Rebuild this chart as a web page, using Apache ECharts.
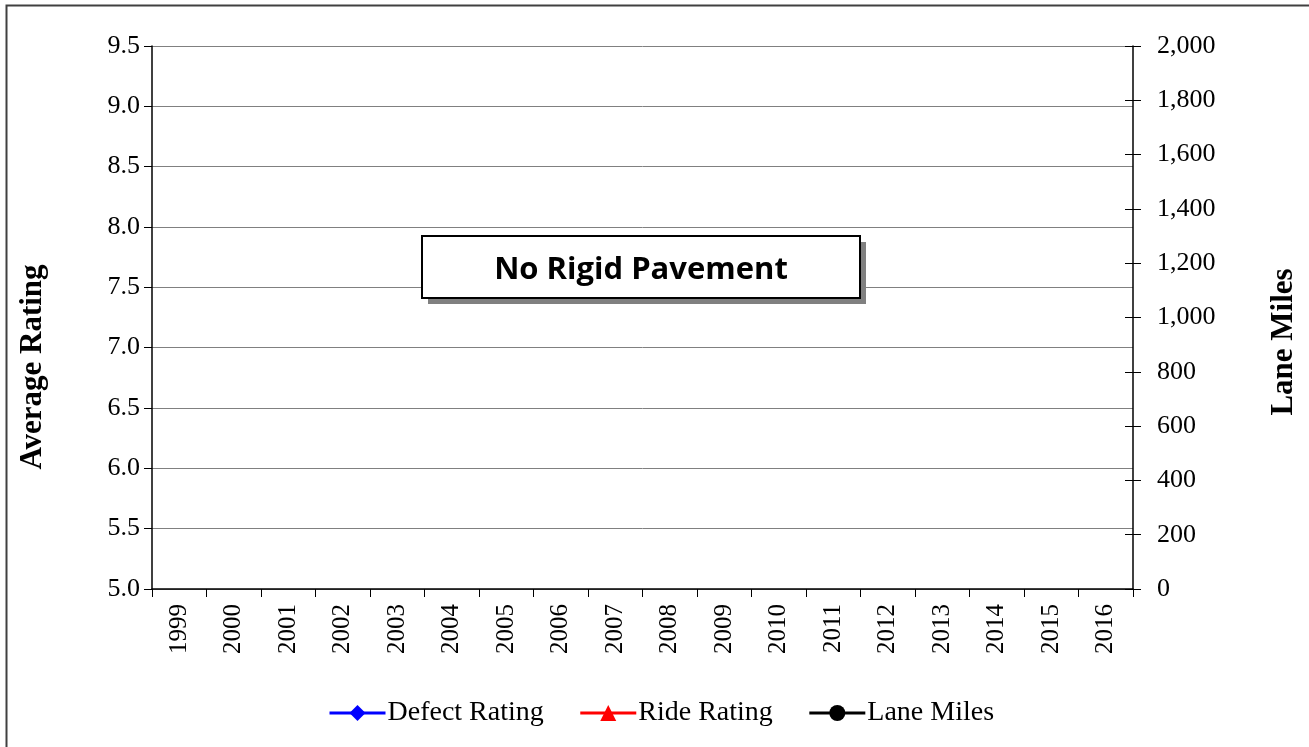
<!DOCTYPE html>
<html>
<head>
<meta charset="utf-8">
<style>
  html, body { margin: 0; padding: 0; background: #fff; }
  #chart { width: 1309px; height: 747px; }
</style>
<script src="https://cdn.jsdelivr.net/npm/echarts@6/dist/echarts.min.js"></script>
</head>
<body>
<div id="chart"></div>
<script>
// Survey years
const years = ['1999','2000','2001','2002','2003','2004','2005','2006','2007','2008',
               '2009','2010','2011','2012','2013','2014','2015','2016'];
// No rigid pavement in the network: every year has no reading
const defectRating = [null,null,null,null,null,null,null,null,null,null,null,null,null,null,null,null,null,null];
const rideRating   = [null,null,null,null,null,null,null,null,null,null,null,null,null,null,null,null,null,null];
const laneMiles    = [null,null,null,null,null,null,null,null,null,null,null,null,null,null,null,null,null,null];

const serif = '"Liberation Serif", "Times New Roman", serif';

const chart = echarts.init(document.getElementById('chart'), null, { renderer: 'canvas' });

const rightAxisBase = {
  type: 'value', position: 'right', min: 0, max: 2000, interval: 200,
  splitLine: { show: false }
};

chart.setOption({
  animation: false,
  backgroundColor: '#fff',
  grid: { left: 152, right: 176, top: 46, bottom: 158, containLabel: false },
  xAxis: {
    type: 'category',
    data: years,
    boundaryGap: true,
    axisLine: { lineStyle: { color: '#000', width: 1.5 } },
    axisTick: { show: true, length: 8, lineStyle: { color: '#000' } },
    axisLabel: { rotate: 90, margin: 15, color: '#000', fontFamily: serif, fontSize: 25, interval: 0 }
  },
  yAxis: [
    {
      type: 'value', position: 'left', min: 5, max: 9.5, interval: 0.5,
      axisLine: { show: true, lineStyle: { color: '#000', width: 1.5 } },
      axisTick: { show: true, length: 8, lineStyle: { color: '#000' } },
      axisLabel: { margin: 12, color: '#000', fontFamily: serif, fontSize: 26,
                   formatter: v => v.toFixed(1) },
      splitLine: { show: true, lineStyle: { color: '#808080', width: 1 } }
    },
    Object.assign({}, rightAxisBase, {
      axisLine: { show: true, lineStyle: { color: '#000', width: 1.5 } },
      axisTick: { show: true, length: 8, lineStyle: { color: '#000' } },
      axisLabel: { margin: 24, color: '#000', fontFamily: serif, fontSize: 26,
                   formatter: v => v.toLocaleString('en-US') }
    }),
    // inner half of the cross tick marks on the lane-mile axis
    Object.assign({}, rightAxisBase, {
      axisLine: { show: false },
      axisTick: { show: true, inside: true, length: 8, lineStyle: { color: '#000' } },
      axisLabel: { show: false }
    })
  ],
  legend: {
    left: 323, top: 694,
    itemWidth: 56, itemHeight: 20, itemGap: 35,
    lineStyle: { width: 3 },
    textStyle: { color: '#000', fontFamily: serif, fontSize: 28, padding: [0, 0, 0, -3] },
    data: ['Defect Rating', 'Ride Rating', 'Lane Miles']
  },
  series: [
    { name: 'Defect Rating', type: 'line', yAxisIndex: 0, data: defectRating,
      symbol: 'diamond', symbolSize: 16, itemStyle: { color: '#0000ff' }, lineStyle: { color: '#0000ff', width: 3 } },
    { name: 'Ride Rating', type: 'line', yAxisIndex: 0, data: rideRating,
      symbol: 'triangle', symbolSize: 16, itemStyle: { color: '#ff0000' }, lineStyle: { color: '#ff0000', width: 3 } },
    { name: 'Lane Miles', type: 'line', yAxisIndex: 1, data: laneMiles,
      symbol: 'circle', symbolSize: 16, itemStyle: { color: '#000' }, lineStyle: { color: '#000', width: 3 } }
  ],
  graphic: [
    // chart frame
    { type: 'rect', left: 4, top: 3, silent: true,
      shape: { x: 0, y: 0, width: 1400, height: 800 },
      style: { fill: 'none', stroke: '#404040', lineWidth: 2 } },
    // axis titles
    { type: 'text', x: 33, y: 367, rotation: Math.PI / 2,
      style: { text: 'Average Rating', fill: '#000', font: 'bold 31px ' + serif,
               align: 'center', verticalAlign: 'middle' } },
    { type: 'text', x: 1284, y: 342, rotation: Math.PI / 2,
      style: { text: 'Lane Miles', fill: '#000', font: 'bold 31px ' + serif,
               align: 'center', verticalAlign: 'middle' } },
    // note box with drop shadow
    { type: 'rect', x: 428, y: 242, z: 10,
      shape: { x: 0, y: 0, width: 438, height: 62 },
      style: { fill: '#808080' } },
    { type: 'rect', x: 422, y: 236, z: 11,
      shape: { x: 0, y: 0, width: 438, height: 62 },
      style: { fill: '#fff', stroke: '#000', lineWidth: 2 } },
    { type: 'text', x: 641, y: 270, z: 12,
      style: { text: 'No Rigid Pavement', fill: '#000', font: 'bold 31px "Open Sans", sans-serif',
               align: 'center', verticalAlign: 'middle' } }
  ]
});
</script>
</body>
</html>
